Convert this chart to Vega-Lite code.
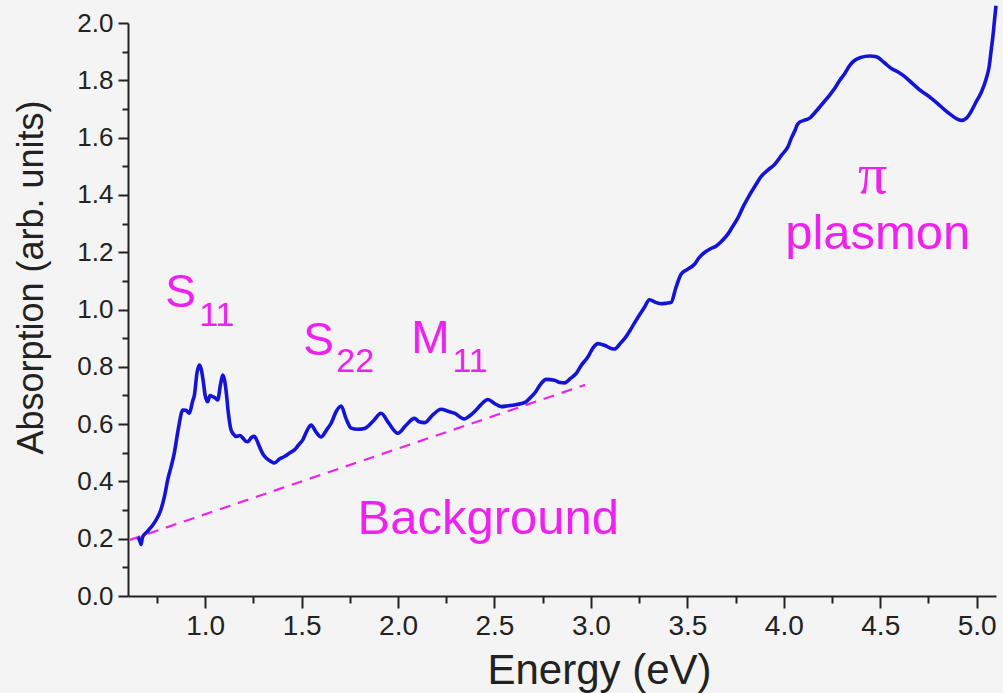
{
  "$schema": "https://vega.github.io/schema/vega-lite/v6.json",
  "autosize": "none",
  "width": 868,
  "height": 573,
  "padding": {"left": 128, "top": 23, "right": 7, "bottom": 97},
  "background": "#f4f4f4",
  "config": {
    "view": {"stroke": null},
    "font": "Liberation Sans"
  },
  "datasets": {
    "curve": [
      {"E":0.650,"A":0.205},{"E":0.660,"A":0.195},{"E":0.668,"A":0.180},{"E":0.675,"A":0.205},{"E":0.700,"A":0.225},
      {"E":0.737,"A":0.256},{"E":0.771,"A":0.302},{"E":0.790,"A":0.350},{"E":0.806,"A":0.406},{"E":0.825,"A":0.455},
      {"E":0.840,"A":0.499},{"E":0.860,"A":0.580},{"E":0.884,"A":0.649},{"E":0.900,"A":0.648},{"E":0.918,"A":0.638},
      {"E":0.935,"A":0.680},{"E":0.944,"A":0.700},{"E":0.958,"A":0.780},{"E":0.970,"A":0.806},{"E":0.980,"A":0.790},
      {"E":0.990,"A":0.750},{"E":1.000,"A":0.700},{"E":1.013,"A":0.678},{"E":1.025,"A":0.700},{"E":1.039,"A":0.696},
      {"E":1.055,"A":0.690},{"E":1.065,"A":0.684},{"E":1.080,"A":0.740},{"E":1.091,"A":0.771},{"E":1.100,"A":0.755},
      {"E":1.108,"A":0.719},{"E":1.120,"A":0.640},{"E":1.134,"A":0.580},{"E":1.147,"A":0.565},{"E":1.160,"A":0.557},
      {"E":1.180,"A":0.560},{"E":1.195,"A":0.552},{"E":1.210,"A":0.540},{"E":1.221,"A":0.539},{"E":1.240,"A":0.553},
      {"E":1.255,"A":0.557},{"E":1.270,"A":0.540},{"E":1.281,"A":0.522},{"E":1.300,"A":0.495},{"E":1.316,"A":0.482},
      {"E":1.340,"A":0.470},{"E":1.359,"A":0.464},{"E":1.385,"A":0.478},{"E":1.411,"A":0.487},{"E":1.440,"A":0.500},
      {"E":1.463,"A":0.510},{"E":1.485,"A":0.528},{"E":1.506,"A":0.545},{"E":1.530,"A":0.580},{"E":1.549,"A":0.597},
      {"E":1.575,"A":0.572},{"E":1.601,"A":0.555},{"E":1.630,"A":0.580},{"E":1.653,"A":0.603},{"E":1.680,"A":0.645},
      {"E":1.705,"A":0.663},{"E":1.730,"A":0.620},{"E":1.757,"A":0.586},{"E":1.790,"A":0.582},{"E":1.826,"A":0.585},
      {"E":1.870,"A":0.610},{"E":1.912,"A":0.638},{"E":1.950,"A":0.605},{"E":1.999,"A":0.568},{"E":2.040,"A":0.595},
      {"E":2.085,"A":0.620},{"E":2.110,"A":0.608},{"E":2.137,"A":0.605},{"E":2.180,"A":0.632},{"E":2.223,"A":0.652},
      {"E":2.260,"A":0.645},{"E":2.292,"A":0.638},{"E":2.344,"A":0.618},{"E":2.370,"A":0.628},{"E":2.396,"A":0.643},
      {"E":2.430,"A":0.668},{"E":2.466,"A":0.686},{"E":2.500,"A":0.672},{"E":2.535,"A":0.661},{"E":2.570,"A":0.664},
      {"E":2.604,"A":0.667},{"E":2.640,"A":0.672},{"E":2.664,"A":0.678},{"E":2.690,"A":0.695},{"E":2.707,"A":0.707},
      {"E":2.740,"A":0.740},{"E":2.768,"A":0.756},{"E":2.811,"A":0.753},{"E":2.840,"A":0.745},{"E":2.863,"A":0.744},
      {"E":2.895,"A":0.760},{"E":2.924,"A":0.777},{"E":2.950,"A":0.805},{"E":2.984,"A":0.834},{"E":3.010,"A":0.865},
      {"E":3.036,"A":0.881},{"E":3.070,"A":0.875},{"E":3.105,"A":0.864},{"E":3.122,"A":0.862},{"E":3.150,"A":0.880},
      {"E":3.174,"A":0.898},{"E":3.210,"A":0.935},{"E":3.244,"A":0.973},{"E":3.275,"A":1.005},{"E":3.304,"A":1.034},
      {"E":3.335,"A":1.025},{"E":3.365,"A":1.020},{"E":3.390,"A":1.022},{"E":3.416,"A":1.025},{"E":3.440,"A":1.075},
      {"E":3.468,"A":1.124},{"E":3.500,"A":1.140},{"E":3.537,"A":1.158},{"E":3.560,"A":1.180},{"E":3.589,"A":1.199},
      {"E":3.620,"A":1.212},{"E":3.650,"A":1.222},{"E":3.680,"A":1.240},{"E":3.710,"A":1.263},{"E":3.735,"A":1.290},
      {"E":3.762,"A":1.320},{"E":3.790,"A":1.360},{"E":3.814,"A":1.390},{"E":3.850,"A":1.430},{"E":3.883,"A":1.465},
      {"E":3.920,"A":1.488},{"E":3.952,"A":1.506},{"E":3.990,"A":1.540},{"E":4.022,"A":1.569},{"E":4.040,"A":1.600},
      {"E":4.056,"A":1.622},{"E":4.070,"A":1.645},{"E":4.082,"A":1.654},{"E":4.105,"A":1.660},{"E":4.134,"A":1.668},
      {"E":4.165,"A":1.690},{"E":4.195,"A":1.714},{"E":4.230,"A":1.742},{"E":4.264,"A":1.772},{"E":4.290,"A":1.800},
      {"E":4.316,"A":1.824},{"E":4.345,"A":1.855},{"E":4.368,"A":1.870},{"E":4.400,"A":1.880},{"E":4.445,"A":1.885},
      {"E":4.480,"A":1.882},{"E":4.520,"A":1.862},{"E":4.558,"A":1.841},{"E":4.590,"A":1.830},{"E":4.627,"A":1.813},
      {"E":4.665,"A":1.790},{"E":4.705,"A":1.766},{"E":4.735,"A":1.752},{"E":4.765,"A":1.737},{"E":4.800,"A":1.717},
      {"E":4.834,"A":1.697},{"E":4.865,"A":1.680},{"E":4.895,"A":1.666},{"E":4.920,"A":1.660},{"E":4.947,"A":1.668},
      {"E":4.970,"A":1.690},{"E":4.998,"A":1.726},{"E":5.025,"A":1.760},{"E":5.050,"A":1.807},{"E":5.065,"A":1.850},
      {"E":5.076,"A":1.911},{"E":5.085,"A":1.960},{"E":5.093,"A":2.015},{"E":5.100,"A":2.060}
    ],
    "background": [
      {"E":0.61,"A":0.196},{"E":2.97,"A":0.737}
    ],
    "labels": [
      {"E":0.793,"A":1.009,"t":"S"},
      {"E":1.509,"A":0.841,"t":"S"},
      {"E":2.069,"A":0.848,"t":"M"}
    ],
    "subs": [
      {"E":0.969,"A":0.942,"t":"11"},
      {"E":1.680,"A":0.782,"t":"22"},
      {"E":2.282,"A":0.782,"t":"11"}
    ],
    "words": [
      {"E":2.468,"A":0.218,"t":"Background"},
      {"E":4.487,"A":1.212,"t":"plasmon"}
    ],
    "pi": [
      {"E":4.46,"A":1.405,"t":"π"}
    ]
  },
  "encoding": {
    "x": {
      "field": "E", "type": "quantitative",
      "scale": {"domain": [0.6, 5.1], "nice": false, "zero": false},
      "axis": {
        "title": "Energy (eV)",
        "values": [0.75,1,1.25,1.5,1.75,2,2.25,2.5,2.75,3,3.25,3.5,3.75,4,4.25,4.5,4.75,5],
        "labelExpr": "round(datum.value*4)%2==1 ? '' : format(datum.value,'.1f')",
        "tickSize": {"condition": {"test": "round(datum.value*4)%2==1", "value": 7}, "value": 12},
        "grid": false,
        "domainColor": "#222222", "domainWidth": 2,
        "tickColor": "#222222", "tickWidth": 2,
        "labelColor": "#222222", "labelFontSize": 28, "labelPadding": 4,
        "labelFont": "Liberation Sans", "labelOverlap": false, "labelFlush": false,
        "titleFont": "Liberation Sans", "titleFontSize": 42, "titleFontWeight": "normal",
        "titleColor": "#222222",
        "titleX": 471, "titleY": 87, "titleBaseline": "alphabetic", "titleAnchor": "middle", "titleAlign": "center"
      }
    },
    "y": {
      "field": "A", "type": "quantitative",
      "scale": {"domain": [0, 2], "nice": false},
      "axis": {
        "title": "Absorption (arb. units)",
        "values": [0,0.1,0.2,0.3,0.4,0.5,0.6,0.7,0.8,0.9,1,1.1,1.2,1.3,1.4,1.5,1.6,1.7,1.8,1.9,2],
        "labelExpr": "round(datum.value*10)%2==1 ? '' : format(datum.value,'.1f')",
        "tickSize": {"condition": {"test": "round(datum.value*10)%2==1", "value": 6}, "value": 10},
        "grid": false,
        "domainColor": "#222222", "domainWidth": 2,
        "tickColor": "#222222", "tickWidth": 2,
        "labelColor": "#222222", "labelFontSize": 26, "labelPadding": 5,
        "labelFont": "Liberation Sans", "labelOverlap": false, "labelFlush": false,
        "titleFont": "Liberation Sans", "titleFontSize": 36, "titleFontWeight": "normal",
        "titleColor": "#222222",
        "titleX": -97, "titleY": 254, "titleBaseline": "middle", "titleAnchor": "middle", "titleAlign": "center"
      }
    }
  },
  "layer": [
    {
      "data": {"name": "background"},
      "mark": {"type": "line", "color": "#ee22ee", "strokeWidth": 2.2, "strokeDash": [11, 8]},
      "encoding": {}
    },
    {
      "data": {"name": "curve"},
      "mark": {"type": "line", "color": "#1414d6", "strokeWidth": 3.6, "interpolate": "monotone"},
      "encoding": {}
    },
    {
      "data": {"name": "labels"},
      "mark": {"type": "text", "color": "#ee22ee", "font": "Liberation Sans", "fontSize": 46, "align": "left", "baseline": "alphabetic"},
      "encoding": {"text": {"field": "t"}}
    },
    {
      "data": {"name": "subs"},
      "mark": {"type": "text", "color": "#ee22ee", "font": "Liberation Sans", "fontSize": 34, "align": "left", "baseline": "alphabetic"},
      "encoding": {"text": {"field": "t"}}
    },
    {
      "data": {"name": "words"},
      "mark": {"type": "text", "color": "#ee22ee", "font": "Liberation Sans", "fontSize": 49, "align": "center", "baseline": "alphabetic"},
      "encoding": {"text": {"field": "t"}}
    },
    {
      "data": {"name": "pi"},
      "mark": {"type": "text", "color": "#ee22ee", "font": "Liberation Serif", "fontSize": 58, "align": "center", "baseline": "alphabetic"},
      "encoding": {"text": {"field": "t"}}
    }
  ]
}
